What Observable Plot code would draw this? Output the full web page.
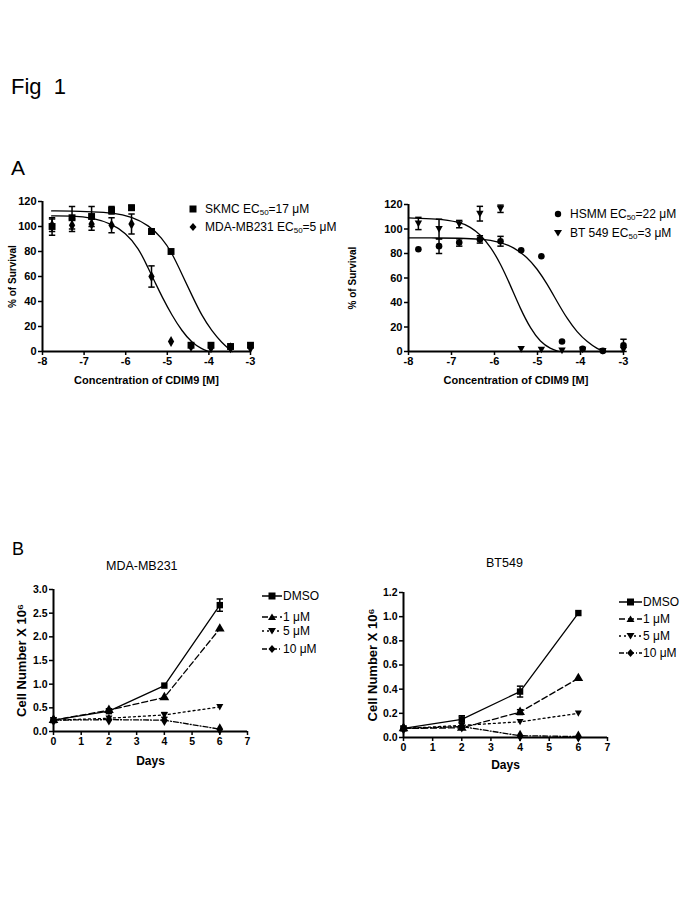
<!DOCTYPE html>
<html><head><meta charset="utf-8">
<script src="https://cdn.jsdelivr.net/npm/d3@7"></script>
<script src="https://cdn.jsdelivr.net/npm/@observablehq/plot@0.6"></script>
<style>
body{margin:0;background:#fff;}
#page{position:relative;width:685px;height:913px;font-family:"Liberation Sans",Arial,sans-serif;color:#000;background:#fff;overflow:hidden;}
.abs{position:absolute;line-height:1;white-space:nowrap;}
.leg{position:absolute;display:flex;align-items:center;height:16px;font-size:12px;white-space:nowrap;}
.leg sub{font-size:8px;vertical-align:-2px;line-height:0;}
svg{overflow:visible;}
</style></head><body><div id="page"></div>
<script>
// ---------- DATA ----------
// Panel A: log10 concentration of CDIM9 [M]
const concLog = [-7.77, -7.29, -6.82, -6.34, -5.86, -5.38, -4.91, -4.43, -3.95, -3.48, -3.0];
const doseTicksX = [-8, -7, -6, -5, -4, -3];
const doseTicksY = [0, 20, 40, 60, 80, 100, 120];

const skmcY   = [100, 107, 108, 113, 115, 96, 80, 5, 5, 4, 5];
const skmcErr = [7, 9, 8, 3, 2, 2, 0, 0, 0, 0, 0];
const mdaY    = [101, 101, 102, 101, 102, 60, 8, 4, 3, 3, 3];
const mdaErr  = [5, 5, 5, 6, 8, 8.5, 0, 0, 0, 0, 0];
const skmcCurveX = [-7.78, -7.3, -6.8, -6.33, -5.85, -5.45, -5.13, -4.89, -4.65, -4.41, -4.17, -3.93, -3.69, -3.49, -3.44];
const skmcCurveY = [112.5, 112.3, 111.7, 111, 108, 101, 91, 79, 62, 45, 28.5, 16.5, 7, 1.3, 0];
const mdaCurveX  = [-7.78, -7.29, -6.8, -6.33, -6.01, -5.69, -5.45, -5.29, -5.13, -4.89, -4.65, -4.41, -4.17, -4.0];
const mdaCurveY  = [108.5, 108.5, 107, 102, 95, 83, 66, 55, 44, 29, 16.5, 7, 2, 0];

const hsmmY    = [83.5, 86, 89, 91.5, 90, 82.6, 77.7, 8.2, 2.2, 0.5, 5];
const hsmmErr  = [0, 6, 3, 3, 4, 0, 0, 0, 0, 0, 5];
const bt549Y   = [104.5, 100, 104, 112.5, 116.5, 2, 1.5, 0.8, 1.5, 0.5, 1.5];
const bt549Err = [5, 8, 3, 6, 3, 0, 0, 0, 0, 0, 0];
const hsmmCurveX  = [-8, -7.33, -6.82, -6.33, -5.86, -5.55, -5.24, -5.01, -4.78, -4.54, -4.31, -4.08, -3.84, -3.61, -3.46];
const hsmmCurveY  = [92.7, 92.7, 92.5, 92, 89.5, 85, 77, 67.6, 55.4, 40.4, 26.7, 15.8, 7.6, 2.2, 0];
const bt549CurveX = [-8, -7.33, -6.82, -6.56, -6.33, -6.09, -5.86, -5.63, -5.40, -5.16, -4.93, -4.70, -4.50];
const bt549CurveY = [109, 108.5, 105.8, 101.7, 95.5, 85.4, 71.7, 54, 35, 18.5, 7.6, 2.2, 0];

// Panel B: cell growth
const days = [0, 2, 4, 6];
const dayTicks = [0, 1, 2, 3, 4, 5, 6, 7];
const treatments = ["DMSO", "1 μM", "5 μM", "10 μM"];
const mdaGrowth    = [[0.24, 0.43, 0.97, 2.67], [0.24, 0.45, 0.72, 2.17], [0.24, 0.28, 0.35, 0.52], [0.24, 0.25, 0.24, 0.05]];
const mdaGrowthErr = [[0, 0, 0, 0.13], [0, 0, 0, 0], [0, 0, 0.05, 0], [0, 0, 0, 0]];
const mdaTicksY = [0, 0.5, 1.0, 1.5, 2.0, 2.5, 3.0];
const btGrowth    = [[0.075, 0.15, 0.38, 1.03], [0.075, 0.08, 0.21, 0.49], [0.075, 0.10, 0.13, 0.20], [0.075, 0.09, 0.015, 0.008]];
const btGrowthErr = [[0, 0.03, 0.045, 0], [0, 0, 0.02, 0], [0, 0, 0, 0], [0, 0, 0, 0]];
const btTicksY = [0, 0.2, 0.4, 0.6, 0.8, 1.0, 1.2];

// ---------- STYLE ----------
const FONT = '"Liberation Sans", Arial, sans-serif';
const capSymbol = {draw(ctx, size) { const w = Math.sqrt(size) / 2; ctx.moveTo(-w, 0); ctx.lineTo(w, 0); }};
const triDown = {draw(ctx, size) { const s = Math.sqrt(size) * 1.1; ctx.moveTo(-s/2, -s*0.4); ctx.lineTo(s/2, -s*0.4); ctx.lineTo(0, s*0.5); ctx.closePath(); }};
const treatSymbols = ["square", "triangle", triDown, "diamond"];
const treatDash = [null, "6,3", "2,3", "5,2,1,2"];

const page = document.getElementById("page");
function place(el, left, top) { el.style.position = "absolute"; el.style.left = left + "px"; el.style.top = top + "px"; page.appendChild(el); return el; }
function text(str, left, top, size, extra = "") {
  const d = document.createElement("div"); d.className = "abs";
  d.style.cssText += `left:${left}px;top:${top}px;font-size:${size}px;${extra}`;
  d.innerHTML = str; page.appendChild(d); return d;
}

function pts(xs, ys, errs) { return xs.map((x, i) => ({x, y: ys[i], e: errs ? errs[i] : 0})); }
function errMarks(data) {
  const withErr = data.filter(d => d.e > 0);
  return [
    Plot.link(withErr, {x1: "x", x2: "x", y1: d => d.y - d.e, y2: d => d.y + d.e, stroke: "black", strokeWidth: 1.5}),
    Plot.dot(withErr, {x: "x", y: d => d.y + d.e, symbol: capSymbol, r: 3.6, stroke: "black", strokeWidth: 1.5, fill: "none"}),
    Plot.dot(withErr, {x: "x", y: d => d.y - d.e, symbol: capSymbol, r: 3.6, stroke: "black", strokeWidth: 1.5, fill: "none"})
  ];
}

function axes({xTicks, yTicks, xLabel, yLabel, xFmt, yFmt, xLabelOffset, yLabelOffset, yLabelSize, xLabelSize, tickSize}) {
  return [
    Plot.ruleX([xTicks[0]], {y1: yTicks[0], y2: yTicks[yTicks.length - 1], stroke: "black", strokeWidth: 2}),
    Plot.ruleY([yTicks[0]], {x1: xTicks[0], x2: xTicks[xTicks.length - 1], stroke: "black", strokeWidth: 2}),
    Plot.axisX({ticks: xTicks, tickSize: 4, tickPadding: 2, strokeWidth: 1.5, tickFormat: xFmt, label: null, fontSize: tickSize}),
    Plot.axisY({ticks: yTicks, tickSize: 4, tickPadding: 2, strokeWidth: 1.5, tickFormat: yFmt, label: null, fontSize: tickSize}),
    Plot.axisX({ticks: [], tickSize: 0, label: xLabel, labelAnchor: "center", labelArrow: false, labelOffset: xLabelOffset, fontSize: xLabelSize}),
    Plot.axisY({ticks: [], tickSize: 0, label: yLabel, labelAnchor: "center", labelArrow: false, labelOffset: yLabelOffset, fontSize: yLabelSize})
  ];
}

function doseChart({width, height, margins, curves, series}) {
  const marks = [];
  for (const c of curves) marks.push(Plot.line(c, {x: "x", y: "y", stroke: "black", strokeWidth: 1.3, curve: "basis"}));
  for (const s of series) {
    marks.push(...errMarks(s.data));
    marks.push(Plot.dot(s.data, {x: "x", y: "y", symbol: s.symbol, r: s.r, fill: "black", stroke: "none"}));
  }
  marks.push(...axes({xTicks: doseTicksX, yTicks: doseTicksY, xLabel: "Concentration of CDIM9 [M]", yLabel: "% of Survival",
    xFmt: d => String(d), yFmt: d => String(d), xLabelOffset: 32, yLabelOffset: margins[3] - 8, yLabelSize: 10, xLabelSize: 11, tickSize: 11}));
  return Plot.plot({
    width, height, marginTop: margins[0], marginRight: margins[1], marginBottom: margins[2], marginLeft: margins[3],
    x: {domain: [-8, -3]}, y: {domain: [0, 120]},
    style: {fontFamily: FONT, fontWeight: "bold", fontSize: "11px", background: "transparent", color: "black", overflow: "visible"},
    marks
  });
}

function growthChart({width, height, margins, values, errs, yTicks, yLabelOffset, xLabelOffset}) {
  const marks = [];
  values.forEach((vals, k) => {
    const data = pts(days, vals, errs[k]);
    marks.push(Plot.line(data, {x: "x", y: "y", stroke: "black", strokeWidth: 1.3, strokeDasharray: treatDash[k]}));
    marks.push(...errMarks(data));
  });
  for (let k = values.length - 1; k >= 0; k--) {
    const data = pts(days, values[k], errs[k]);
    marks.push(Plot.dot(data, {x: "x", y: "y", symbol: treatSymbols[k], r: 3.6, fill: "black", stroke: "none"}));
  }
  marks.push(...axes({xTicks: dayTicks, yTicks, xLabel: "Days", yLabel: "Cell Number X 10⁶",
    xFmt: d => String(d), yFmt: d3.format(".1f"), xLabelOffset, yLabelOffset, yLabelSize: 13, xLabelSize: 12, tickSize: 10.5}));
  return Plot.plot({
    width, height, marginTop: margins[0], marginRight: margins[1], marginBottom: margins[2], marginLeft: margins[3],
    x: {domain: [dayTicks[0], dayTicks[dayTicks.length - 1]]}, y: {domain: [yTicks[0], yTicks[yTicks.length - 1]]},
    style: {fontFamily: FONT, fontWeight: "bold", fontSize: "11px", background: "transparent", color: "black", overflow: "visible"},
    marks
  });
}

// ---------- HEADINGS ----------
text("Fig&nbsp;&nbsp;1", 11, 76, 22);
text("A", 11, 157, 21);
text("B", 12, 540, 18);

// ---------- PANEL A ----------
place(doseChart({
  width: 340, height: 200, margins: [11, 90, 39, 42],
  curves: [pts(skmcCurveX, skmcCurveY), pts(mdaCurveX, mdaCurveY)],
  series: [
    {data: pts(concLog, mdaY, mdaErr), symbol: "diamond", r: 3.3},
    {data: pts(concLog, skmcY, skmcErr), symbol: "square", r: 3.9}
  ]
}), 0, 190);

place(doseChart({
  width: 345, height: 200, margins: [14, 62, 39, 68],
  curves: [pts(hsmmCurveX, hsmmCurveY), pts(bt549CurveX, bt549CurveY)],
  series: [
    {data: pts(concLog, hsmmY, hsmmErr), symbol: "circle", r: 3.3},
    {data: pts(concLog, bt549Y, bt549Err), symbol: triDown, r: 3.8}
  ]
}), 340, 190);

function symSvg(kind, w = 12) {
  const c = w / 2;
  let shape = "";
  if (kind === "square") shape = `<rect x="${c-3.5}" y="4.5" width="7" height="7"/>`;
  if (kind === "diamond") shape = `<path d="M${c},4 L${c+3.5},8 L${c},12 L${c-3.5},8Z"/>`;
  if (kind === "circle") shape = `<circle cx="${c}" cy="8" r="3.2"/>`;
  if (kind === "triUp") shape = `<path d="M${c},4.5 L${c+4},11 L${c-4},11Z"/>`;
  if (kind === "triDown") shape = `<path d="M${c-4},5 L${c+4},5 L${c},11.5Z"/>`;
  return shape;
}
function legendRow(left, cy, kind, html) {
  const d = document.createElement("div"); d.className = "leg";
  d.style.left = left + "px"; d.style.top = (cy - 8) + "px";
  d.innerHTML = `<svg width="12" height="16" style="margin-right:6px">${symSvg(kind)}</svg><span>${html}</span>`;
  page.appendChild(d);
}
legendRow(187, 209, "square", "SKMC EC<sub>50</sub>=17 μM");
legendRow(187, 227, "diamond", "MDA-MB231 EC<sub>50</sub>=5 μM");
legendRow(552, 214, "circle", "HSMM EC<sub>50</sub>=22 μM");
legendRow(552, 233, "triDown", "BT 549 EC<sub>50</sub>=3 μM");

// ---------- PANEL B ----------
text("MDA-MB231", 106, 560, 12.5, "font-weight:normal;");
text("BT549", 486, 557, 12.5, "font-weight:normal;");

place(growthChart({width: 340, height: 200, margins: [14, 93, 44, 53],
  values: mdaGrowth, errs: mdaGrowthErr, yTicks: mdaTicksY, yLabelOffset: 37, xLabelOffset: 33}), 0, 575);
place(growthChart({width: 345, height: 200, margins: [17, 78, 38, 63],
  values: btGrowth, errs: btGrowthErr, yTicks: btTicksY, yLabelOffset: 36, xLabelOffset: 31}), 340, 575);

const legKinds = ["square", "triUp", "triDown", "diamond"];
function growthLegend(left, rows, lw) {
  rows.forEach((cy, k) => {
    const d = document.createElement("div"); d.className = "leg";
    d.style.left = left + "px"; d.style.top = (cy - 8) + "px";
    const dash = treatDash[k] ? `stroke-dasharray="${treatDash[k]}"` : "";
    d.innerHTML = `<svg width="${lw}" height="16" style="margin-right:1px"><line x1="0" x2="${lw}" y1="8" y2="8" stroke="black" stroke-width="1.5" ${dash}/>${symSvg(legKinds[k], lw)}</svg><span>${treatments[k]}</span>`;
    page.appendChild(d);
  });
}
growthLegend(262, [596, 617, 631, 649], 20);
growthLegend(619, [602, 619, 636, 653], 23);
</script></body></html>
